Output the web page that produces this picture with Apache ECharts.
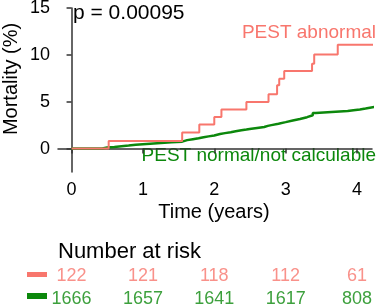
<!DOCTYPE html>
<html>
<head>
<meta charset="utf-8">
<script src="https://cdn.jsdelivr.net/npm/echarts@6/dist/echarts.min.js"></script>
<style>
html, body { margin: 0; padding: 0; background: #fff; }
#main { width: 381px; height: 307px; }
</style>
</head>
<body>
<div id="main"></div>
<script>
// cumulative mortality (%)
var redTime = [0, 0.52, 1.55, 1.79, 2.0, 2.1, 2.45, 2.76, 2.88, 2.91, 2.98, 3.37, 3.40, 3.73, 4.29];
var redMort = [0, 0.82, 1.72, 2.57, 3.38, 4.17, 4.98, 5.8, 6.75, 7.46, 8.27, 9.05, 10.05, 11.08, 11.08];

var greenTime = [0, 0.43, 0.5, 0.6, 0.7, 0.8, 0.9, 1.0, 1.1, 1.2, 1.3, 1.4, 1.55, 1.62, 1.7, 1.78, 1.85, 1.92, 2.0, 2.08, 2.15, 2.23, 2.3, 2.38, 2.45, 2.52, 2.6, 2.7, 2.75, 2.8, 2.9, 3.0, 3.1, 3.2, 3.3, 3.38, 3.42, 3.87, 3.95, 4.04, 4.12, 4.18, 4.25, 4.29];
var greenMort = [0, 0.12, 0.18, 0.25, 0.32, 0.4, 0.46, 0.52, 0.57, 0.62, 0.67, 0.74, 0.9, 1.0, 1.1, 1.2, 1.3, 1.4, 1.55, 1.65, 1.75, 1.85, 1.95, 2.03, 2.12, 2.2, 2.3, 2.42, 2.5, 2.65, 2.82, 3.0, 3.15, 3.35, 3.55, 3.8, 4.0, 4.1, 4.18, 4.28, 4.36, 4.45, 4.6, 4.6];

var xTicks = [0, 1, 2, 3, 4];
var yTicks = [0, 5, 10, 15];

// number at risk table
var riskTime = [0, 1, 2, 3, 4];
var riskAbnormal = [122, 121, 118, 112, 61];
var riskNormal = [1666, 1657, 1641, 1617, 808];
var groups = ['PEST abnormal', 'PEST normal/not calculable'];

var red = '#F8766D';
var green = '#0C880C';
var font = 'Liberation Sans, Arial, sans-serif';

function pairs(xs, ys) {
    var out = [];
    for (var i = 0; i < xs.length; i++) out.push([xs[i], ys[i]]);
    return out;
}

var riskData = [];
for (var i = 0; i < riskTime.length; i++) {
    riskData.push({ value: [riskTime[i], 0], label: { formatter: String(riskAbnormal[i]), color: red } });
    riskData.push({ value: [riskTime[i], 1], label: { formatter: String(riskNormal[i]), color: green } });
}

var axisLine = { show: true, lineStyle: { color: '#333', width: 1.5 } };

var option = {
    animation: false,
    backgroundColor: '#fff',
    textStyle: { fontFamily: font },
    grid: [
        { left: 58, right: 9, top: 8, bottom: 135, outerBoundsMode: 'none' },
        { left: 58, right: 9, top: 264, height: 47, outerBoundsMode: 'none' }
    ],
    xAxis: [
        {
            type: 'value', gridIndex: 0, min: -0.19, max: 4.21,
            axisLine: axisLine,
            axisTick: { show: true, length: 5, customValues: xTicks, lineStyle: { color: '#333', width: 1.5 } },
            axisLabel: { customValues: xTicks, fontSize: 18, color: '#000', margin: 9, fontFamily: font },
            splitLine: { show: false }
        },
        {
            type: 'value', gridIndex: 1, min: -0.19, max: 4.21, show: false
        }
    ],
    yAxis: [
        {
            type: 'value', gridIndex: 0, min: -2.5, max: 15,
            axisLine: axisLine,
            axisTick: { show: true, length: 5, customValues: yTicks, lineStyle: { color: '#333', width: 1.5 } },
            axisLabel: { customValues: yTicks, fontSize: 18, color: '#000', margin: 8, fontFamily: font },
            splitLine: { show: false }
        },
        {
            type: 'category', gridIndex: 1, data: groups, inverse: true, show: false
        }
    ],
    series: [
        {
            name: groups[1], type: 'line', step: 'end', symbol: 'none',
            xAxisIndex: 0, yAxisIndex: 0,
            data: pairs(greenTime, greenMort),
            lineStyle: { color: green, width: 2.5 }
        },
        {
            name: groups[0], type: 'line', step: 'end', symbol: 'none',
            xAxisIndex: 0, yAxisIndex: 0,
            data: pairs(redTime, redMort),
            lineStyle: { color: red, width: 2 }
        },
        {
            type: 'scatter', xAxisIndex: 1, yAxisIndex: 1,
            symbolSize: 0, silent: true,
            data: riskData,
            label: { show: true, position: 'inside', fontSize: 18, fontFamily: font }
        }
    ],
    graphic: [
        { type: 'text', x: 73, y: 13, style: { text: 'p = 0.00095', fontSize: 21, fontFamily: font, fill: '#000', align: 'left', verticalAlign: 'middle' } },
        { type: 'text', x: 11, y: 79, rotation: Math.PI / 2, style: { text: 'Mortality (%)', fontSize: 20, fontFamily: font, fill: '#000', align: 'center', verticalAlign: 'middle' } },
        { type: 'text', x: 214, y: 212, style: { text: 'Time (years)', fontSize: 20, fontFamily: font, fill: '#000', align: 'center', verticalAlign: 'middle' } },
        { type: 'text', x: 376, y: 33, style: { text: groups[0], fontSize: 19, fontFamily: font, fill: red, align: 'right', verticalAlign: 'middle' } },
        { type: 'text', x: 376, y: 156, style: { text: groups[1], fontSize: 19, fontFamily: font, fill: green, align: 'right', verticalAlign: 'middle' } },
        { type: 'text', x: 58, y: 252, style: { text: 'Number at risk', fontSize: 22, fontFamily: font, fill: '#000', align: 'left', verticalAlign: 'middle' } },
        { type: 'rect', shape: { x: 27, y: 272, width: 20, height: 5 }, style: { fill: red } },
        { type: 'rect', shape: { x: 27, y: 293, width: 20, height: 6 }, style: { fill: green } }
    ]
};

var myChart = echarts.init(document.getElementById('main'));
myChart.setOption(option);
</script>
</body>
</html>
